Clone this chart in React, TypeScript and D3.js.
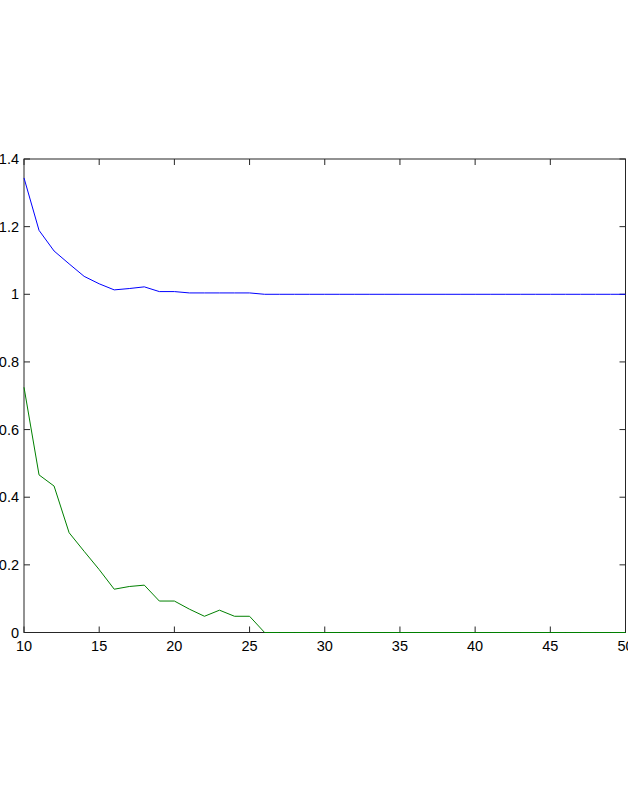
import React from "react";
import * as d3 from "d3";

const xValues = [10, 11, 12, 13, 14, 15, 16, 17, 18, 19, 20, 21, 22, 23, 24, 25, 26, 27, 28, 29, 30, 31, 32, 33, 34, 35, 36, 37, 38, 39, 40, 41, 42, 43, 44, 45, 46, 47, 48, 49, 50];
const blueSeries = [1.344, 1.189, 1.128, 1.09, 1.053, 1.031, 1.013, 1.017, 1.022, 1.008, 1.008, 1.004, 1.004, 1.004, 1.004, 1.004, 1.0, 1.0, 1.0, 1.0, 1.0, 1.0, 1.0, 1.0, 1.0, 1.0, 1.0, 1.0, 1.0, 1.0, 1.0, 1.0, 1.0, 1.0, 1.0, 1.0, 1.0, 1.0, 1.0, 1.0, 1.0];
const greenSeries = [0.725, 0.466, 0.433, 0.295, 0.24, 0.186, 0.128, 0.136, 0.14, 0.093, 0.093, 0.069, 0.048, 0.066, 0.048, 0.048, 0, 0, 0, 0, 0, 0, 0, 0, 0, 0, 0, 0, 0, 0, 0, 0, 0, 0, 0, 0, 0, 0, 0, 0, 0];
const xTicks = [10, 15, 20, 25, 30, 35, 40, 45, 50];
const yTicks = [0, 0.2, 0.4, 0.6, 0.8, 1, 1.2, 1.4];

export default function App() {
  const W = 628, H = 811;
  const left = 24, right = 625.5, top = 159, bottom = 632.5;
  const x = d3.scaleLinear().domain([10, 50]).range([left, right]);
  const y = d3.scaleLinear().domain([0, 1.4]).range([bottom, top]);
  const line = d3.line<number>().x((_, i) => x(xValues[i])).y((d) => y(d));
  const axisColor = "#262626";
  const font = "'Liberation Sans', Arial, Helvetica, sans-serif";
  const tl = 6;
  return (
    <svg width={W} height={H} style={{ position: "absolute", left: 0, top: 0, background: "#fff" }}>
      <rect x={0} y={0} width={W} height={H} fill="#fff" />
      {xTicks.map((t) => (
        <g key={"x" + t}>
          <line x1={x(t)} x2={x(t)} y1={bottom} y2={bottom - tl} stroke={axisColor} strokeWidth={1} />
          <line x1={x(t)} x2={x(t)} y1={top} y2={top + tl} stroke={axisColor} strokeWidth={1} />
          <text x={x(t)} y={bottom + 18} textAnchor="middle" fontFamily={font} fontSize={14.5} fill="#000">{t}</text>
        </g>
      ))}
      {yTicks.map((t) => (
        <g key={"y" + t}>
          <line x1={left} x2={left + tl} y1={y(t)} y2={y(t)} stroke={axisColor} strokeWidth={1} />
          <line x1={right} x2={right - tl} y1={y(t)} y2={y(t)} stroke={axisColor} strokeWidth={1} />
          <text x={left - 5} y={y(t) + 5} textAnchor="end" fontFamily={font} fontSize={14.5} fill="#000">{String(t)}</text>
        </g>
      ))}
      <rect x={left} y={top} width={right - left} height={bottom - top} fill="none" stroke={axisColor} strokeWidth={1} />
      <path d={line(blueSeries) || ""} fill="none" stroke="#0000ff" strokeWidth={1} />
      <path d={line(greenSeries) || ""} fill="none" stroke="#008000" strokeWidth={1} />
    </svg>
  );
}
